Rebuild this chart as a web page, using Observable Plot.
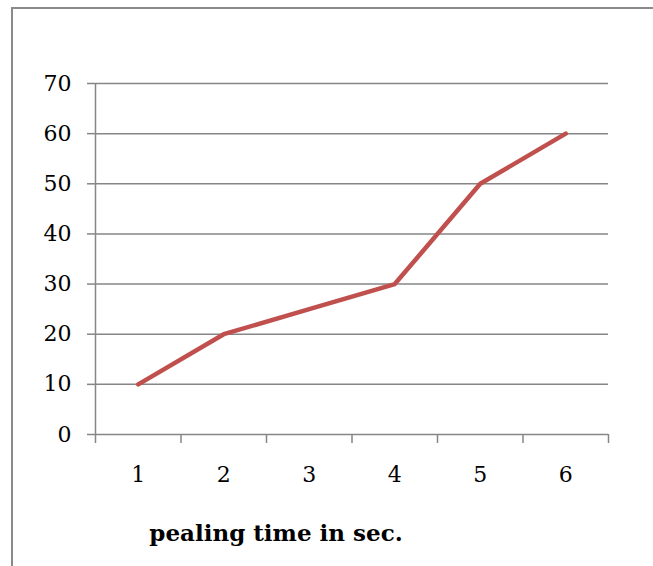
<!DOCTYPE html>
<html>
<head>
<meta charset="utf-8">
<script src="https://cdn.jsdelivr.net/npm/d3@7"></script>
<script src="https://cdn.jsdelivr.net/npm/@observablehq/plot@0.6"></script>
<style>
  html, body { margin: 0; padding: 0; background: #fff; }
  #wrap { position: relative; width: 653px; height: 566px; overflow: hidden; }
  #frame { position: absolute; left: 11px; top: 7px; width: 700px; height: 600px;
           border-left: 2px solid #8a8a8a; border-top: 2px solid #8a8a8a; }
  #chart { position: absolute; left: 0; top: 0; }
</style>
</head>
<body>
<div id="wrap"><div id="frame"></div><div id="chart"></div></div>
<script>
const categories = [1, 2, 3, 4, 5, 6];
const values = [10, 20, 25, 30, 50, 60];
const yTicks = [0, 10, 20, 30, 40, 50, 60, 70];
const xBoundaries = [0.5, 1.5, 2.5, 3.5, 4.5, 5.5, 6.5];
const xTitle = "pealing time in sec.";

const data = categories.map((c, i) => ({x: c, y: values[i]}));
const gridColor = "#868686";
const font = "'DejaVu Serif', serif";

const chart = Plot.plot({
  width: 653,
  height: 566,
  marginLeft: 95,
  marginRight: 45,
  marginTop: 83,
  marginBottom: 132,
  style: {fontFamily: font, fontSize: "22px", color: "#000", background: "transparent", overflow: "visible"},
  x: {type: "linear", domain: [0.5, 6.5]},
  y: {domain: [0, 70]},
  marks: [
    Plot.ruleY(yTicks, {x1: 0.5, x2: 6.5, stroke: gridColor, strokeWidth: 1.5, strokeOpacity: 1}),
    Plot.ruleX([0.5], {y1: 0, y2: 70, stroke: gridColor, strokeWidth: 1.5}),
    Plot.axisY({ticks: yTicks, tickSize: 8, tickPadding: 16, tickFormat: "d", stroke: gridColor, strokeWidth: 1.5, strokeOpacity: 1, label: null, fontSize: 22, fill: "#000"}),
    Plot.axisX({ticks: xBoundaries, tickSize: 9, tickFormat: () => "", stroke: gridColor, strokeWidth: 1.5, strokeOpacity: 1, label: null}),
    Plot.axisX({ticks: categories, tickSize: 0, tickPadding: 32, tickFormat: "d", label: null, fontSize: 22, fill: "#000"}),
    Plot.line(data, {x: "x", y: "y", stroke: "#c0504d", strokeWidth: 4.5, strokeLinecap: "round", strokeLinejoin: "round"}),
    Plot.text([xTitle], {frameAnchor: "bottom", dx: -76, dy: 99, lineAnchor: "middle", fontWeight: "bold", fontSize: 23, fill: "#000"})
  ]
});
document.getElementById("chart").appendChild(chart);
</script>
</body>
</html>
